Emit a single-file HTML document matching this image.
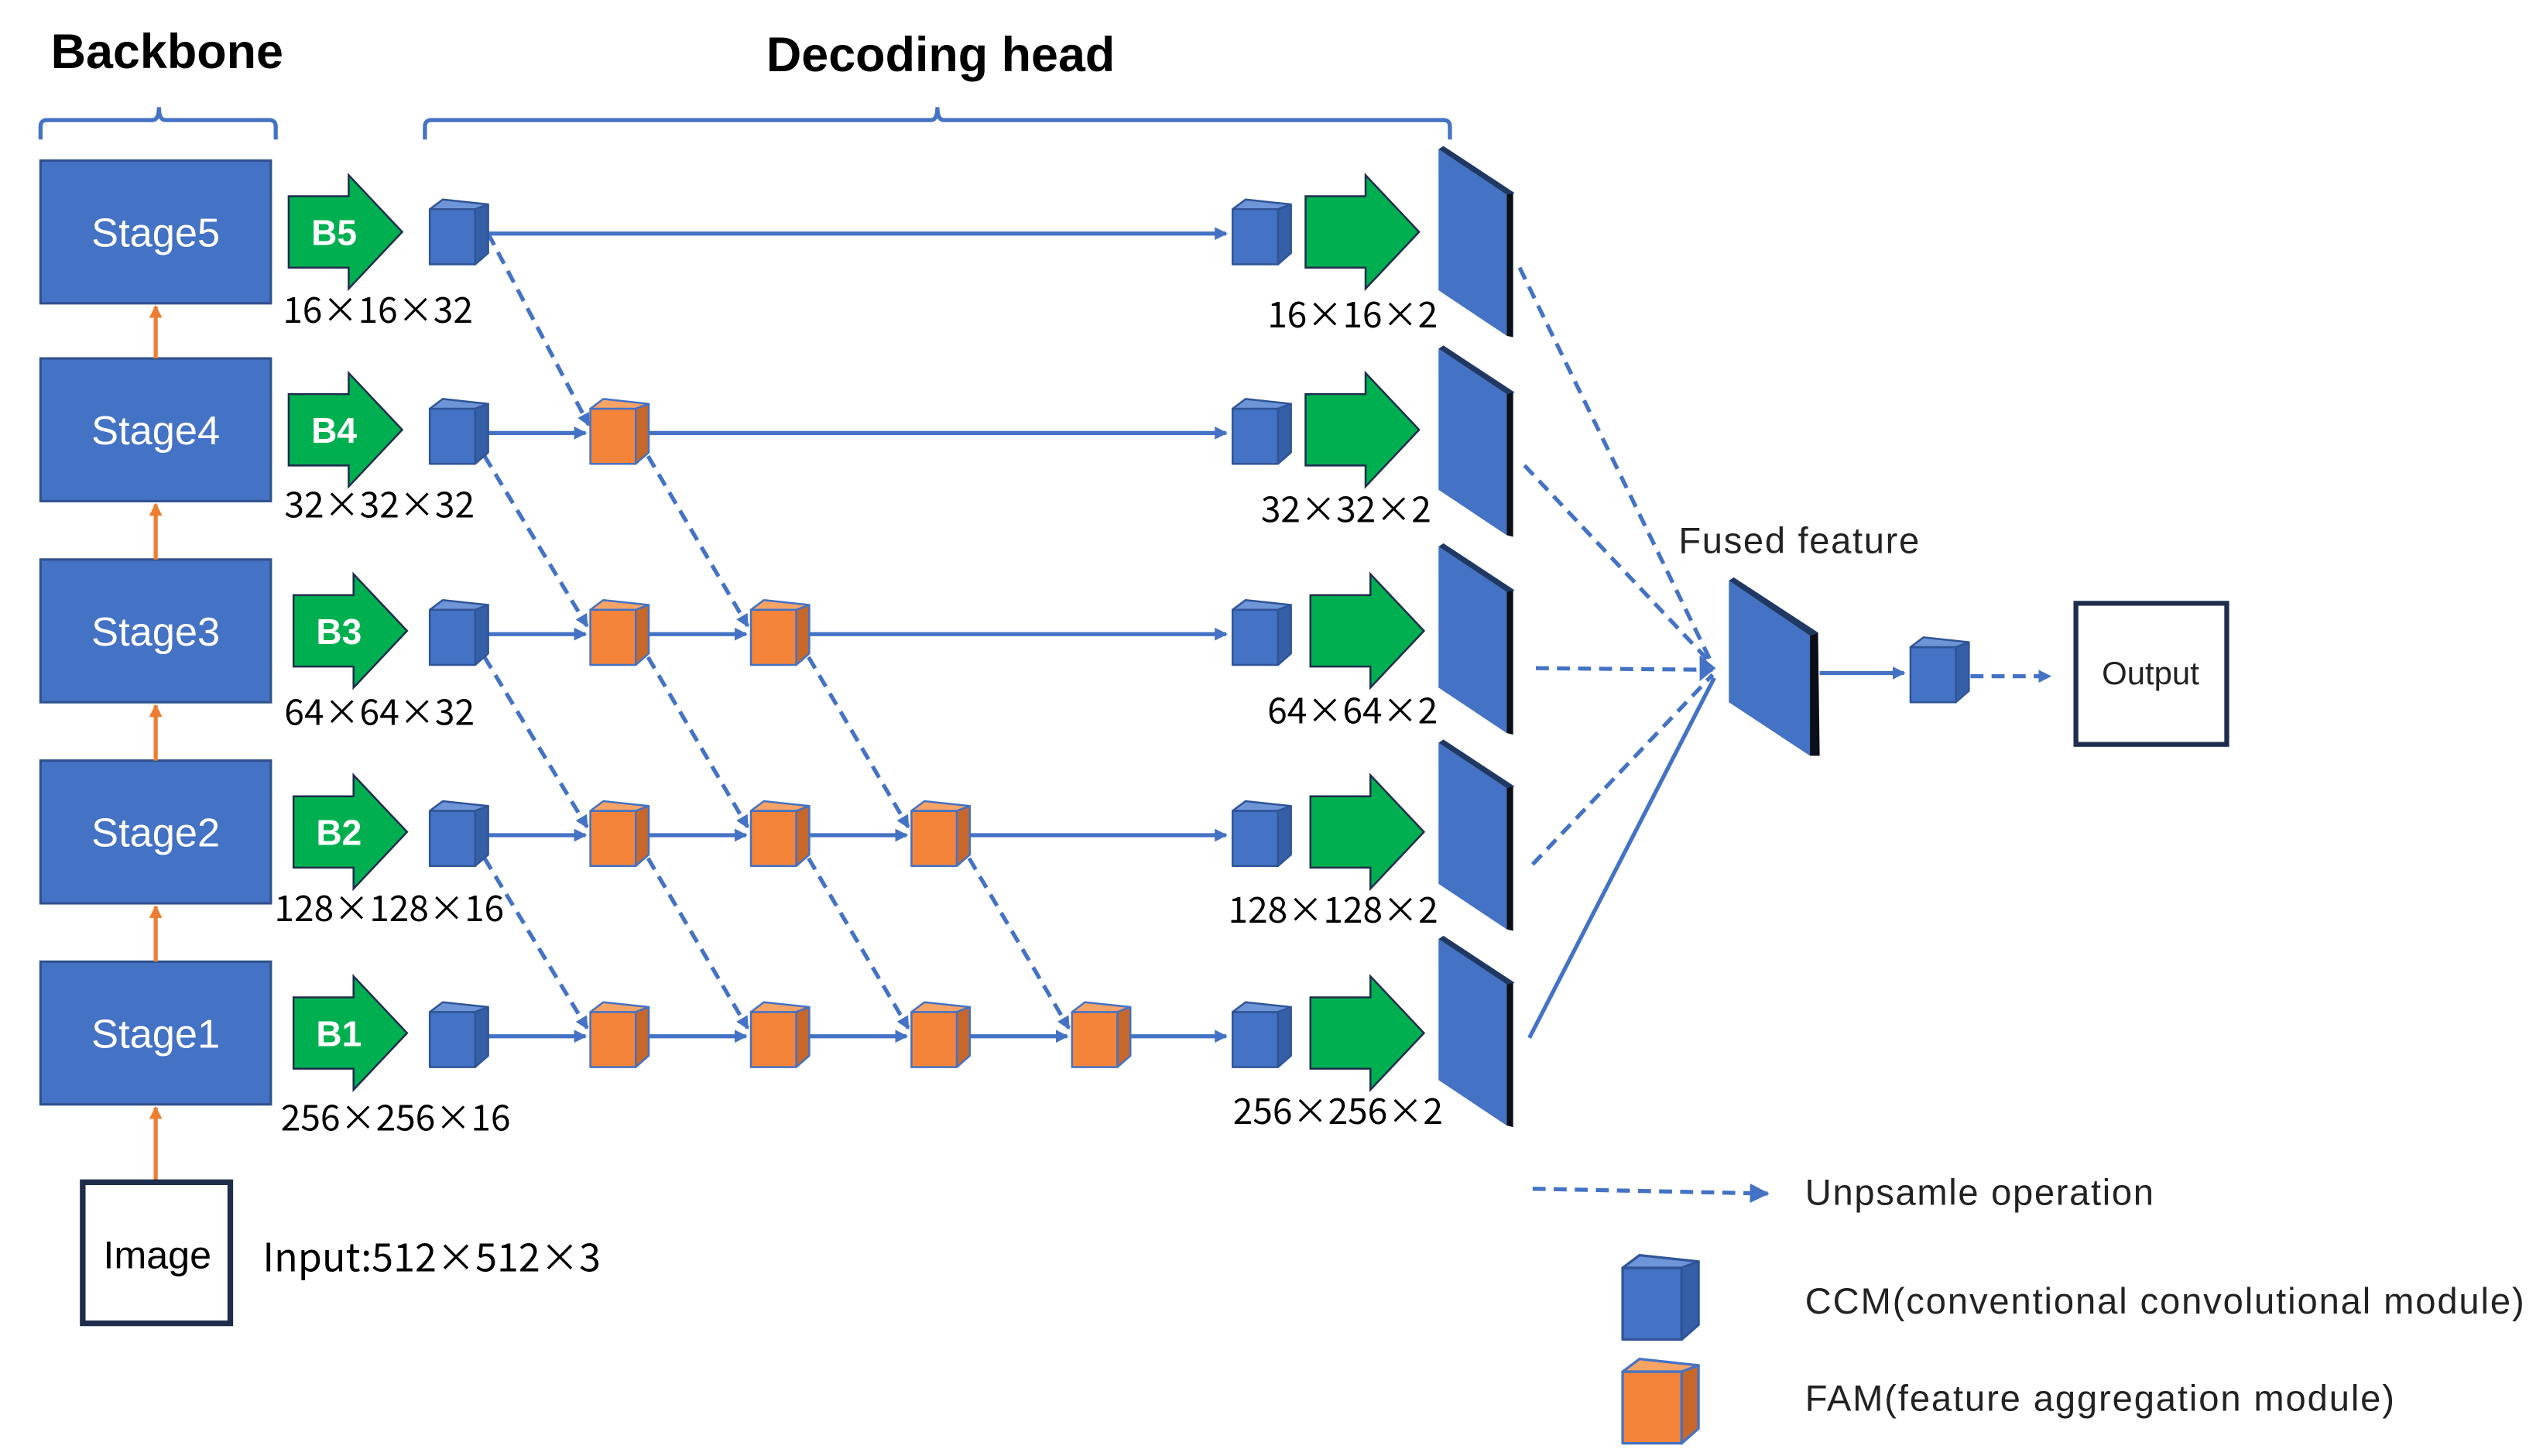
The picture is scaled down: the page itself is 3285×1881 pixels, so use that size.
<!DOCTYPE html>
<html><head><meta charset="utf-8"><style>
html,body{margin:0;padding:0;background:#fff;width:3285px;height:1881px;overflow:hidden}
svg{display:block}
text{font-family:"Liberation Sans","Noto Sans CJK JP",sans-serif}
text.j,.j text{font-family:"Noto Sans CJK JP","Liberation Sans",sans-serif}
</style></head><body>
<svg width="3285" height="1881" viewBox="0 0 1568 897.8" xmlns="http://www.w3.org/2000/svg">
<defs>
<marker id="ah" markerWidth="8" markerHeight="8" refX="7" refY="4" orient="auto" markerUnits="userSpaceOnUse">
<path d="M0,0 L8,4 L0,8 Z" fill="#4472c4"/></marker>
<marker id="ahs" markerWidth="12" markerHeight="12" refX="11" refY="6" orient="auto" markerUnits="userSpaceOnUse">
<path d="M0,0 L12,6 L0,12 Z" fill="#4472c4"/></marker>
<marker id="ao" markerWidth="8" markerHeight="8" refX="7" refY="4" orient="auto" markerUnits="userSpaceOnUse">
<path d="M0,0 L8,4 L0,8 Z" fill="#ed7d31"/></marker>
<g id="bc" stroke="#2f5597" stroke-width="1.2" stroke-linejoin="round">
<rect x="-15" y="-14" width="28" height="34" fill="#4472c4"/>
<polygon points="-15,-14 -7,-20 21,-17 13,-14" fill="#6f95d9"/>
<polygon points="13,-14 21,-17 21,13 13,20" fill="#3560a8"/>
</g>
<g id="oc" stroke="#4472c4" stroke-width="1.2" stroke-linejoin="round">
<rect x="-15" y="-14" width="28" height="34" fill="#f4843a"/>
<polygon points="-15,-14 -7,-20 21,-17 13,-14" fill="#f8a366"/>
<polygon points="13,-14 21,-17 21,13 13,20" fill="#c8672a"/>
</g>
<path id="ga" d="M0,-22 H37 V-35 L70,0 L37,35 V22 H0 Z" fill="#00b050" stroke="#1f2d4d" stroke-width="1.2"/>
<g id="slab">
<polygon points="887,0 929,28 929,115 887,87" fill="#4472c4"/>
<polygon points="887,0 890,-2 934,27 929,28" fill="#1f3864"/>
<polygon points="929,28 933,27 933,116 929,115" fill="#0a0f1a"/>
</g>
</defs>

<text x="103" y="42" font-size="30" font-weight="bold" text-anchor="middle" fill="#000">Backbone</text>
<text x="580" y="44" font-size="30" font-weight="bold" text-anchor="middle" fill="#000">Decoding head</text>
<path d="M25,86 V78 Q25,74 29,74 H94 Q98,74 98,66 Q98,74 102,74 H166 Q170,74 170,78 V86" fill="none" stroke="#4472c4" stroke-width="2.5"/>
<path d="M262,86 V78 Q262,74 266,74 H574 Q578,74 578,66 Q578,74 582,74 H890 Q894,74 894,78 V86" fill="none" stroke="#4472c4" stroke-width="2.5"/>

<g fill="#4472c4" stroke="#2f528f" stroke-width="1.5">
<rect x="25" y="99" width="142" height="88"/>
<rect x="25" y="221" width="142" height="88"/>
<rect x="25" y="345" width="142" height="88"/>
<rect x="25" y="469" width="142" height="88"/>
<rect x="25" y="593" width="142" height="88"/>
</g>
<g fill="#fff" font-size="25" text-anchor="middle">
<text x="96" y="152">Stage5</text>
<text x="96" y="274">Stage4</text>
<text x="96" y="398">Stage3</text>
<text x="96" y="522">Stage2</text>
<text x="96" y="646">Stage1</text>
</g>
<g stroke="#ed7d31" stroke-width="2.5" marker-end="url(#ao)">
<line x1="96" y1="221" x2="96" y2="189"/>
<line x1="96" y1="345" x2="96" y2="311"/>
<line x1="96" y1="469" x2="96" y2="435"/>
<line x1="96" y1="593" x2="96" y2="559"/>
<line x1="96" y1="729" x2="96" y2="683"/>
</g>
<rect x="51" y="729" width="91" height="87" fill="#fff" stroke="#1f2d4d" stroke-width="3.5"/>
<text x="97" y="782" font-size="24" text-anchor="middle" fill="#000">Image</text>
<text x="162" y="784" font-size="24" class="j" fill="#000">Input:512×512×3</text>

<use href="#ga" transform="translate(178,143)"/>
<use href="#ga" transform="translate(178,265)"/>
<use href="#ga" transform="translate(181,389)"/>
<use href="#ga" transform="translate(181,513)"/>
<use href="#ga" transform="translate(181,637)"/>
<g fill="#fff" font-size="22" font-weight="bold" text-anchor="middle">
<text x="206" y="151">B5</text><text x="206" y="273">B4</text><text x="209" y="397">B3</text><text x="209" y="521">B2</text><text x="209" y="645">B1</text>
<text x="832" y="151">B5</text><text x="832" y="273">B4</text><text x="835" y="397">B3</text><text x="835" y="521">B2</text><text x="835" y="645">B1</text>
</g>
<g fill="#000" font-size="22" text-anchor="middle">
<text class="j" x="233" y="199">16×16×32</text>
<text class="j" x="234" y="319">32×32×32</text>
<text class="j" x="234" y="447">64×64×32</text>
<text class="j" x="240" y="568">128×128×16</text>
<text class="j" x="244" y="697">256×256×16</text>
<text class="j" x="834" y="202">16×16×2</text>
<text class="j" x="830" y="322">32×32×2</text>
<text class="j" x="834" y="446">64×64×2</text>
<text class="j" x="822" y="569">128×128×2</text>
<text class="j" x="825" y="693">256×256×2</text>
</g>

<g stroke="#4472c4" stroke-width="2.5" marker-end="url(#ah)">
<line x1="298" y1="144" x2="756" y2="144"/>
<line x1="298" y1="267" x2="361" y2="267"/><line x1="397" y1="267" x2="756" y2="267"/>
<line x1="298" y1="391" x2="361" y2="391"/><line x1="397" y1="391" x2="460" y2="391"/><line x1="496" y1="391" x2="756" y2="391"/>
<line x1="298" y1="515" x2="361" y2="515"/><line x1="397" y1="515" x2="460" y2="515"/><line x1="496" y1="515" x2="559" y2="515"/><line x1="595" y1="515" x2="756" y2="515"/>
<line x1="298" y1="639" x2="361" y2="639"/><line x1="397" y1="639" x2="460" y2="639"/><line x1="496" y1="639" x2="559" y2="639"/><line x1="595" y1="639" x2="658" y2="639"/><line x1="694" y1="639" x2="756" y2="639"/>
</g>
<g stroke="#4472c4" stroke-width="2.5" stroke-dasharray="8,5" marker-end="url(#ah)">
<line x1="301" y1="144" x2="363" y2="262"/>
<line x1="292" y1="270" x2="362" y2="386"/><line x1="393" y1="270" x2="461" y2="386"/>
<line x1="292" y1="394" x2="362" y2="510"/><line x1="393" y1="394" x2="461" y2="510"/><line x1="492" y1="394" x2="560" y2="510"/>
<line x1="292" y1="518" x2="362" y2="634"/><line x1="393" y1="518" x2="461" y2="634"/><line x1="492" y1="518" x2="560" y2="634"/><line x1="591" y1="518" x2="659" y2="634"/>
</g>
<use href="#bc" x="280" y="143"/><use href="#bc" x="280" y="266"/><use href="#bc" x="280" y="390"/><use href="#bc" x="280" y="514"/><use href="#bc" x="280" y="638"/>
<use href="#bc" x="775" y="143"/><use href="#bc" x="775" y="266"/><use href="#bc" x="775" y="390"/><use href="#bc" x="775" y="514"/><use href="#bc" x="775" y="638"/>
<use href="#oc" x="379" y="266"/>
<use href="#oc" x="379" y="390"/><use href="#oc" x="478" y="390"/>
<use href="#oc" x="379" y="514"/><use href="#oc" x="478" y="514"/><use href="#oc" x="577" y="514"/>
<use href="#oc" x="379" y="638"/><use href="#oc" x="478" y="638"/><use href="#oc" x="577" y="638"/><use href="#oc" x="676" y="638"/>

<use href="#ga" transform="translate(805,143)"/>
<use href="#ga" transform="translate(805,265)"/>
<use href="#ga" transform="translate(808,389)"/>
<use href="#ga" transform="translate(808,513)"/>
<use href="#ga" transform="translate(808,637)"/>

<use href="#slab" y="92"/><use href="#slab" y="215"/><use href="#slab" y="337"/><use href="#slab" y="458"/><use href="#slab" y="579"/>

<g stroke="#4472c4" stroke-width="2.5" fill="none">
<g stroke-dasharray="8,5">
<line x1="937" y1="165" x2="1056" y2="410"/>
<line x1="940" y1="287" x2="1056" y2="410"/>
<line x1="947" y1="412" x2="1056" y2="413"/>
<line x1="945" y1="533" x2="1056" y2="416"/>
</g>
<line x1="943" y1="640" x2="1057" y2="418"/>
</g>
<polygon points="1048,404 1058,412 1048,420" fill="#4472c4"/>
<text x="1035" y="341" font-size="22.5" letter-spacing="0.8" fill="#222">Fused feature</text>
<polygon points="1066,358 1116,392 1116,466 1066,433" fill="#4472c4"/>
<polygon points="1066,358 1069,356 1121,390 1116,392" fill="#1f3864"/>
<polygon points="1116,392 1121,390 1122,466 1116,466" fill="#0a0f1a"/>
<line x1="1122" y1="415" x2="1174" y2="415" stroke="#4472c4" stroke-width="2.5" marker-end="url(#ah)"/>
<use href="#bc" x="1193" y="413"/>
<line x1="1215" y1="417" x2="1264" y2="417" stroke="#4472c4" stroke-width="2.5" stroke-dasharray="8,5" marker-end="url(#ah)"/>
<rect x="1280" y="372" width="93" height="87" fill="#fff" stroke="#1f2d4d" stroke-width="3"/>
<text x="1326" y="422" font-size="20" text-anchor="middle" fill="#222">Output</text>

<line x1="945" y1="733" x2="1090" y2="736" stroke="#4472c4" stroke-width="2.5" stroke-dasharray="8,5" marker-end="url(#ahs)"/>
<text x="1113" y="743" font-size="22.5" letter-spacing="0.8" fill="#222">Unpsamle operation</text>
<g transform="translate(1020,800) scale(1.3)"><use href="#bc"/></g>
<g transform="translate(1020,864) scale(1.3)"><use href="#oc"/></g>
<text x="1113" y="810" font-size="22.5" letter-spacing="0.9" fill="#222">CCM(conventional convolutional module)</text>
<text x="1113" y="870" font-size="22.5" letter-spacing="0.9" fill="#222">FAM(feature aggregation module)</text>
</svg>
</body></html>
